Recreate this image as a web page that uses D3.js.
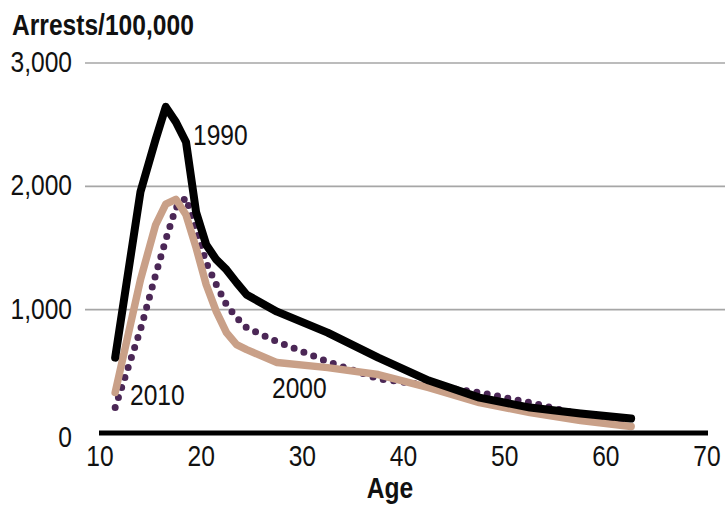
<!DOCTYPE html>
<html>
<head>
<meta charset="utf-8">
<script src="https://cdn.jsdelivr.net/npm/d3@7"></script>
<style>
  body { margin: 0; background: #fff; }
  text { font-family: "Liberation Sans", Arial, sans-serif; font-size: 30px; fill: #111; }
</style>
</head>
<body>
<svg width="725" height="508"></svg>
<script>
// age group midpoints (10-12, 13-14, 15 ... 60-64)
const ages = [11.5, 14, 15.5, 16.5, 17.5, 18.5, 19.5, 20.5, 21.5, 22.5, 23.5, 24.5, 27.5, 32.5, 37.5, 42.5, 47.5, 52.5, 57.5, 62.5]

const rate1990 = [611, 1955, 2380, 2644, 2522, 2360, 1790, 1526, 1405, 1324, 1219, 1121, 984, 814, 611, 425, 287, 206, 158, 117]
const rate2000 = [328, 1243, 1688, 1855, 1895, 1769, 1502, 1202, 984, 814, 717, 676, 571, 530, 474, 368, 247, 166, 101, 53]
const rate2010 = [207, 838, 1283, 1567, 1826, 1907, 1648, 1381, 1202, 1040, 935, 854, 741, 579, 440, 385, 328, 247, 150, 80]

const yTicks = [0, 1000, 2000, 3000]
const xTicks = [10, 20, 30, 40, 50, 60, 70]

const svg = d3.select("svg")

const x = d3.scaleLinear().domain([10, 70]).range([100, 707])
const y = d3.scaleLinear().domain([0, 3000]).range([433, 63])

// narrow text: no condensed font here, so squeeze horizontally
const squeeze = 0.82
function label(px, py, str, anchor, bold) {
  return svg.append("text")
    .attr("transform", `translate(${px},${py}) scale(${squeeze},1)`)
    .attr("text-anchor", anchor || "start")
    .style("font-weight", bold ? "bold" : "normal")
    .text(str)
}

// gridlines
svg.append("g")
  .selectAll("line")
  .data(yTicks.filter(d => d > 0))
  .enter().append("line")
  .attr("x1", 85).attr("x2", 725)
  .attr("y1", d => y(d)).attr("y2", d => y(d))
  .attr("stroke", "#a6a6a6")
  .attr("stroke-width", 1.6)

// y labels
yTicks.forEach(d => label(72, y(d) + (d === 0 ? 14 : 9), d3.format(",")(d), "end"))

// x labels
xTicks.forEach(d => label(x(d), 466, d, "middle"))

const line = d3.line()
  .x((d, i) => x(ages[i]))
  .y(d => y(d))

// 2010 dotted
svg.append("path")
  .datum(rate2010)
  .attr("d", line)
  .attr("fill", "none")
  .attr("stroke", "#4b2756")
  .attr("stroke-width", 7)
  .attr("stroke-linecap", "round")
  .attr("stroke-dasharray", "0 10.5")

// 2000
svg.append("path")
  .datum(rate2000)
  .attr("d", line)
  .attr("fill", "none")
  .attr("stroke", "#c9a088")
  .attr("stroke-width", 7.5)
  .attr("stroke-linejoin", "round")
  .attr("stroke-linecap", "round")

// 1990
svg.append("path")
  .datum(rate1990)
  .attr("d", line)
  .attr("fill", "none")
  .attr("stroke", "#000")
  .attr("stroke-width", 8)
  .attr("stroke-linejoin", "round")
  .attr("stroke-linecap", "round")

// baseline
svg.append("line")
  .attr("x1", 99).attr("x2", 708)
  .attr("y1", y(0)).attr("y2", y(0))
  .attr("stroke", "#000")
  .attr("stroke-width", 5)

// series labels
label(193, 145, "1990")
label(272, 398, "2000")
label(130, 405, "2010")

// titles
label(12, 35, "Arrests/100,000", "start", true)
label(390, 498, "Age", "middle", true)
</script>
</body>
</html>
